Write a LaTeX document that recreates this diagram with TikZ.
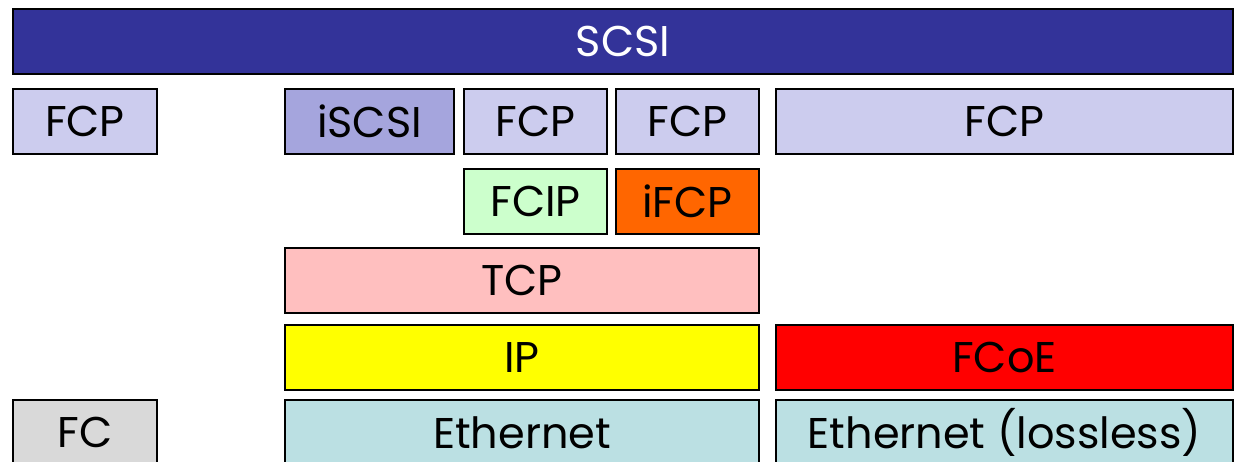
\documentclass[tikz,border=0pt]{standalone}
\usepackage{fontspec}
\setmainfont{Poppins}
\definecolor{scsiblue}{HTML}{333399}
\definecolor{fcpblue}{HTML}{CCCCEE}
\definecolor{iscsiblue}{HTML}{A5A5DD}
\definecolor{fcipgreen}{HTML}{CCFFCC}
\definecolor{ifcporange}{HTML}{FF6600}
\definecolor{tcppink}{HTML}{FFBFBF}
\definecolor{ipyellow}{HTML}{FFFF00}
\definecolor{fcoered}{HTML}{FF0000}
\definecolor{ethcyan}{HTML}{BBE0E3}
\definecolor{fcgrey}{HTML}{D9D9D9}

\begin{document}
\begin{tikzpicture}[x=1pt, y=-1pt,
  every node/.style={font=\fontsize{43}{48}\selectfont},
  layer/.style={draw=black, line width=1.6pt, rectangle, anchor=north west,
    minimum height=65pt, inner sep=0pt, outer sep=0pt}]
  \useasboundingbox (0,0) rectangle (1234,462);
  \clip (0,0) rectangle (1234,462);
  % top
  \node[layer, fill=scsiblue, text=white, minimum width=1220pt] (scsi) at (13,9) {SCSI};
  % upper protocol row
  \node[layer, fill=fcpblue, minimum width=144pt] (fcpa) at (13,89) {FCP};
  \node[layer, fill=iscsiblue, minimum width=169pt] (iscsi) at (285,89) {iSCSI};
  \node[layer, fill=fcpblue, minimum width=143pt] (fcpb) at (464,89) {FCP};
  \node[layer, fill=fcpblue, minimum width=143pt] (fcpc) at (616,89) {FCP};
  \node[layer, fill=fcpblue, minimum width=457pt] (fcpd) at (776,89) {FCP};
  % tunnelling
  \node[layer, fill=fcipgreen, minimum width=143pt] (fcip) at (464,169) {FCIP};
  \node[layer, fill=ifcporange, minimum width=143pt] (ifcp) at (616,169) {iFCP};
  % transport / network
  \node[layer, fill=tcppink, minimum width=474pt] (tcp) at (285,248) {TCP};
  \node[layer, fill=ipyellow, minimum width=474pt] (ip) at (285,325) {IP};
  \node[layer, fill=fcoered, minimum width=457pt] (fcoe) at (776,325) {FCoE};
  % link
  \node[layer, fill=fcgrey, minimum width=144pt] (fc) at (13,400) {FC};
  \node[layer, fill=ethcyan, minimum width=474pt] (eth) at (285,400) {Ethernet};
  \node[layer, fill=ethcyan, minimum width=457pt] (ethll) at (776,400) {Ethernet (lossless)};
\end{tikzpicture}
\end{document}
